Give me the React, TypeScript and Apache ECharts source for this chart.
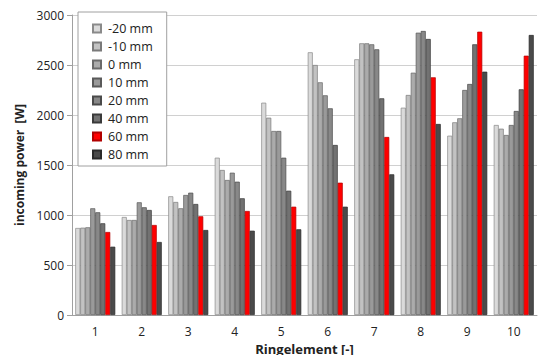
import React, { useEffect, useRef } from "react";
import * as echarts from "echarts";

const categories = ["1", "2", "3", "4", "5", "6", "7", "8", "9", "10"];
const seriesNames = ["-20 mm", "-10 mm", "0 mm", "10 mm", "20 mm", "40 mm", "60 mm", "80 mm"];
const m20 = [870, 980, 1187, 1573, 2123, 2627, 2557, 2073, 1793, 1900];
const m10 = [873, 950, 1130, 1450, 1973, 2500, 2717, 2200, 1927, 1863];
const p0 = [877, 950, 1067, 1350, 1840, 2327, 2717, 2423, 1967, 1800];
const p10 = [1067, 1127, 1200, 1423, 1840, 2197, 2707, 2823, 2250, 1900];
const p20 = [1027, 1077, 1223, 1333, 1573, 2067, 2657, 2840, 2310, 2040];
const p40 = [917, 1050, 1110, 1167, 1243, 1700, 2167, 2760, 2707, 2257];
const p60 = [830, 900, 987, 1040, 1083, 1323, 1780, 2377, 2833, 2593];
const p80 = [683, 730, 850, 843, 857, 1083, 1407, 1910, 2433, 2800];
const values = [m20, m10, p0, p10, p20, p40, p60, p80];
const colors = ["#dadada", "#c2c2c2", "#ababab", "#9a9a9a", "#888888", "#727272", "#ff0000", "#4a4a4a"];
const borders = ["#8a8a8a", "#7a7a7a", "#6a6a6a", "#5a5a5a", "#4a4a4a", "#3a3a3a", "#b00000", "#2a2a2a"];

const FONT = "'Open Sans', 'Noto Sans', sans-serif";

export default function App() {
  const ref = useRef<HTMLDivElement>(null);
  useEffect(() => {
    const chart = echarts.init(ref.current!, null, { renderer: "svg" });
    chart.setOption({
      animation: false,
      backgroundColor: "#ffffff",
      textStyle: { fontFamily: FONT },
      graphic: [
        {
          type: "rect",
          shape: { x: 3, y: 4, width: 549, height: 357 },
          style: { fill: "none", stroke: "#c8c8c8", lineWidth: 1 },
          silent: true,
          z: -10,
        },
      ],
      legend: {
        orient: "vertical",
        left: 78,
        top: 12,
        data: seriesNames,
        icon: "rect",
        itemWidth: 8,
        itemHeight: 8,
        itemGap: 5,
        padding: [10, 14, 5, 14],
        backgroundColor: "#ffffff",
        borderColor: "#a0a0a0",
        borderWidth: 1,
        textStyle: { fontFamily: FONT, fontSize: 12.5, lineHeight: 11, color: "#222", padding: [0, 0, 0, 2] },
        z: 10,
      },
      grid: { left: 72, right: 16, top: 15, bottom: 48, containLabel: false },
      xAxis: {
        type: "category",
        data: categories,
        name: "Ringelement [-]",
        nameLocation: "middle",
        nameGap: 27,
        nameTextStyle: { fontFamily: FONT, fontWeight: "bold", fontSize: 13, color: "#222" },
        axisLine: { lineStyle: { color: "#a0a0a0" } },
        axisTick: { show: false },
        axisLabel: { fontFamily: FONT, fontSize: 12, color: "#222", margin: 10 },
      },
      yAxis: {
        type: "value",
        min: 0,
        max: 3000,
        interval: 500,
        name: "incoming power  [W]",
        nameLocation: "middle",
        nameGap: 46,
        nameTextStyle: { fontFamily: FONT, fontWeight: "bold", fontSize: 12, color: "#222" },
        axisLine: { show: true, lineStyle: { color: "#a0a0a0" } },
        axisTick: { show: true, length: 5, lineStyle: { color: "#a0a0a0" } },
        axisLabel: { fontFamily: FONT, fontSize: 12, color: "#222", margin: 8, formatter: (v: number) => String(v) },
        splitLine: { lineStyle: { color: "#d0d0d0" } },
      },
      series: seriesNames.map((name, i) => ({
        name,
        type: "bar",
        data: values[i],
        barGap: "0%",
        barCategoryGap: "14%",
        itemStyle: { color: colors[i], borderColor: borders[i], borderWidth: 0.7 },
      })),
    });
    return () => chart.dispose();
  }, []);
  return <div ref={ref} style={{ width: 553, height: 363, margin: -8 }} />;
}
